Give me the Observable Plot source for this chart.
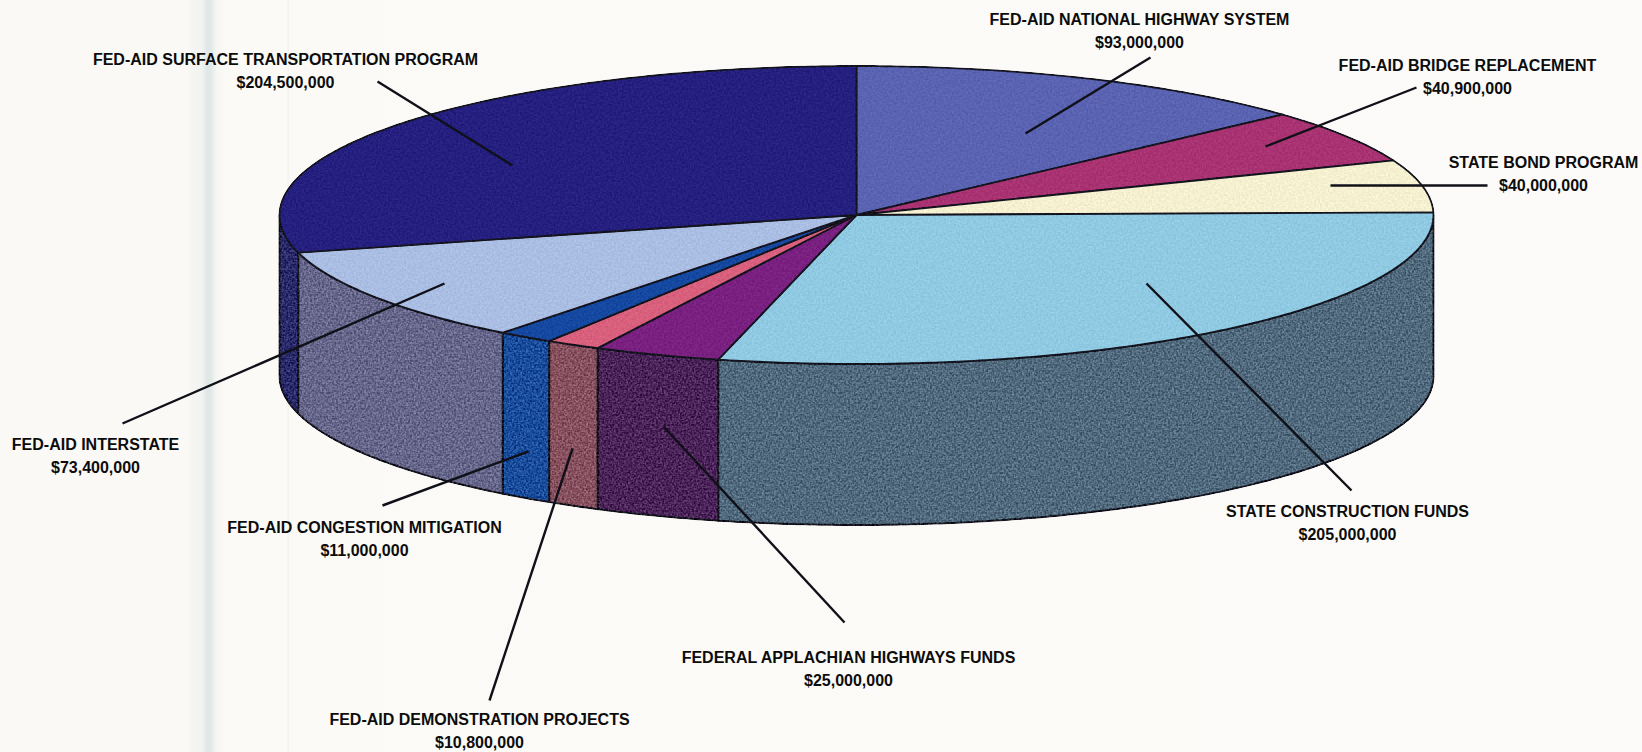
<!DOCTYPE html>
<html>
<head>
<meta charset="utf-8">
<title>Funding sources</title>
<script src="https://cdn.jsdelivr.net/npm/d3@7"></script>
<script src="https://cdn.jsdelivr.net/npm/@observablehq/plot@0.6"></script>
<style>
html,body{margin:0;padding:0;width:1642px;height:752px;overflow:hidden}
body{background:linear-gradient(90deg,#fbf9f6 0,#fbf9f6 186px,#f5f6f3 192px,#f1f3f1 202px,#dfe8e7 207px,#e1e9e8 211px,#f5f5f2 216px,#fbfaf7 226px,#fbfaf7 287px,#f0f0ec 288px,#fbfaf7 289.5px,#fcfbf9 100%)}
svg{display:block}
</style>
</head>
<body>
<div id="chart"></div>
<script>
// clockwise from 12 o'clock
const categories = ["FED-AID NATIONAL HIGHWAY SYSTEM","FED-AID BRIDGE REPLACEMENT","STATE BOND PROGRAM","STATE CONSTRUCTION FUNDS","FEDERAL APPLACHIAN HIGHWAYS FUNDS","FED-AID DEMONSTRATION PROJECTS","FED-AID CONGESTION MITIGATION","FED-AID INTERSTATE","FED-AID SURFACE TRANSPORTATION PROGRAM"];
const amounts = [93000000,40900000,40000000,205000000,25000000,10800000,11000000,73400000,204500000];
const topColors = ["#5a63b2","#a83272","#f5f1d0","#90c9e2","#7a2080","#d9607c","#1548a0","#aabde2","#25207f"];
const wallColors = ["#3d4480","#7a2455","#b0ad90","#50697c","#4a2358","#87505f","#1a4c9c","#66668a","#2a2a6a"];

// sheet layout (separate from the data)
const W = 1642, H = 752;
const disc = {cx: 856, cy: 214.5, rx: 577, ry: 149, depth: 161};
const labelXY = [[1139,19],[1467,65],[1543,162],[1347,511],[848,657],[479,719],[364,527],[95,444],[285,59]];
const lineGap = 23;
const leaders = [[1150,57,1025,133],[1416,87,1265,146],[1487,185,1330,185],[1351,490,1146,283],[844,622,663,426],[489,700,572,448],[382,505,528,451],[122,423,444,283],[377,81,512,165]];

const money = d => "$" + d3.format(",")(d);
const total = d3.sum(amounts);
const cum = d3.cumsum(amounts);
const slices = categories.map((name, i) => ({
  name, i,
  a0: (i ? cum[i - 1] : 0) / total * 2 * Math.PI,
  a1: cum[i] / total * 2 * Math.PI
}));
const pt = (a, dz = 0) => ({x: disc.cx + disc.rx * Math.sin(a), y: disc.cy - disc.ry * Math.cos(a) + dz});
const arc = (a0, a1, dz = 0) => {
  const n = Math.max(2, Math.ceil(Math.abs(a1 - a0) / 0.01));
  return d3.range(n + 1).map(k => pt(a0 + (a1 - a0) * k / n, dz));
};
const center = {x: disc.cx, y: disc.cy};

const wallMarks = slices.flatMap(s => {
  const a0 = Math.max(s.a0, Math.PI / 2), a1 = Math.min(s.a1, 1.5 * Math.PI);
  if (a1 <= a0) return [];
  const ring = [...arc(a0, a1), ...arc(a1, a0, disc.depth)];
  ring.push(ring[0]);
  return [Plot.line(ring, {x: "x", y: "y", fill: wallColors[s.i], stroke: "#14141f", strokeWidth: 2, className: "wall"})];
});
const topMarks = slices.map(s => {
  const ring = [center, ...arc(s.a0, s.a1), center];
  return Plot.line(ring, {x: "x", y: "y", fill: topColors[s.i], stroke: "#14141f", strokeWidth: 1.9, className: "top"});
});

const font = {fontFamily: "Liberation Sans, Arial, sans-serif", fontWeight: "bold", fontSize: 16, fill: "#0c0c0c"};
const rows = slices.flatMap(s => [
  {t: s.name, x: labelXY[s.i][0], y: labelXY[s.i][1]},
  {t: money(amounts[s.i]), x: labelXY[s.i][0], y: labelXY[s.i][1] + lineGap}
]);

const chart = Plot.plot({
  width: W, height: H,
  margin: 0,
  x: {domain: [0, W], range: [0, W], axis: null},
  y: {domain: [0, H], range: [0, H], axis: null},
  style: {background: "transparent"},
  marks: [
    ...wallMarks,
    ...topMarks,
    Plot.link(leaders, {x1: d => d[0], y1: d => d[1], x2: d => d[2], y2: d => d[3], stroke: "#101018", strokeWidth: 2.4}),
    Plot.text(rows, {x: "x", y: "y", text: "t", textAnchor: "middle", lineAnchor: "middle", ...font})
  ]
});

// scanned-paper grain on the pie surfaces
const grain = (id, amp) => `<filter id="${id}" filterUnits="userSpaceOnUse" x="0" y="0" width="${W}" height="${H}" color-interpolation-filters="sRGB">
<feTurbulence type="fractalNoise" baseFrequency="0.5" numOctaves="2" seed="4" result="t"/>
<feColorMatrix in="t" type="matrix" values="1.4 1.4 0 0 -0.9 1.4 1.4 0 0 -0.9 1.4 1.4 0 0 -0.9 0 0 0 0 1" result="n"/>
<feComposite in="SourceGraphic" in2="n" operator="arithmetic" k1="0" k2="1" k3="${amp}" k4="${-amp / 2}" result="c"/>
<feComposite in="c" in2="SourceGraphic" operator="in"/>
</filter>`;
const defs = d3.select(chart).insert("defs", ":first-child");
defs.html(grain("grainWall", 0.24) + grain("grainTop", 0.07));
d3.select(chart).selectAll("g.wall").attr("filter", "url(#grainWall)");
d3.select(chart).selectAll("g.top").attr("filter", "url(#grainTop)");
document.getElementById("chart").append(chart);
</script>
</body>
</html>
